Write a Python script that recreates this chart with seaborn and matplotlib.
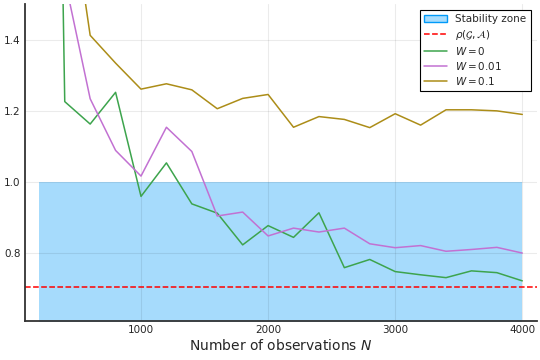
import numpy as np
import pandas as pd
import matplotlib
matplotlib.use("Agg")
import matplotlib.pyplot as plt
import seaborn as sns
from matplotlib.patches import Patch
from matplotlib.lines import Line2D

# number of observations
n_obs = [200, 400, 600, 800, 1000, 1200, 1400, 1600, 1800, 2000,
         2200, 2400, 2600, 2800, 3000, 3200, 3400, 3600, 3800, 4000]
# estimates (first points lie above the view)
w_0 = [5.5, 1.226, 1.163, 1.252, 0.960, 1.054, 0.939, 0.913, 0.824, 0.878,
       0.845, 0.914, 0.760, 0.783, 0.749, 0.740, 0.732, 0.751, 0.746, 0.723]
w_001 = [2.5, 1.57, 1.234, 1.089, 1.017, 1.154, 1.086, 0.905, 0.916, 0.849,
         0.871, 0.860, 0.871, 0.827, 0.816, 0.822, 0.806, 0.811, 0.817, 0.801]
w_01 = [3.0, 1.90, 1.412, 1.334, 1.261, 1.276, 1.259, 1.206, 1.235, 1.246,
        1.154, 1.184, 1.176, 1.153, 1.192, 1.160, 1.203, 1.203, 1.200, 1.190]
series_labels = ["$W = 0$", "$W = 0.01$", "$W = 0.1$"]
rho = 1 / np.sqrt(2)
zone_x = [200, 4000]
zone_top = 1.0

colors = {"$W = 0$": "#3da44d", "$W = 0.01$": "#c271d2", "$W = 0.1$": "#ac8d18"}

df = pd.DataFrame({
    "N": n_obs * 3,
    "value": w_0 + w_001 + w_01,
    "series": [series_labels[0]] * len(n_obs) + [series_labels[1]] * len(n_obs)
              + [series_labels[2]] * len(n_obs),
})

sns.set_theme(style="white")
plt.rcParams['font.family'] = ['DejaVu Sans']

fig = plt.figure(figsize=(5.4, 3.6), dpi=100)
ax = fig.add_axes([0.046, 0.108, 0.948, 0.881])

# stability zone
ax.fill_between(zone_x, [0, 0], [zone_top, zone_top], color="#009af9", alpha=0.35,
                linewidth=0, zorder=0.3)
ax.axhline(rho, color="red", linestyle="--", linewidth=1.1)

sns.lineplot(data=df, x="N", y="value", hue="series", palette=colors,
             linewidth=1.1, ax=ax, legend=False)

ax.set_xlim(86, 4114)
ax.set_ylim(0.61, 1.5)
ax.set_xticks([1000, 2000, 3000, 4000])
ax.set_yticks([0.8, 1.0, 1.2, 1.4])
ax.set_xlabel("Number of observations $N$", fontsize=10, labelpad=2)
ax.set_ylabel("")
ax.tick_params(axis="both", labelsize=7.5, length=0, pad=3)
ax.grid(True, color="black", alpha=0.08, linewidth=0.8)
ax.set_axisbelow(True)
for s in ["top", "right"]:
    ax.spines[s].set_visible(False)
for s in ["left", "bottom"]:
    ax.spines[s].set_color("#333333")
    ax.spines[s].set_linewidth(1.3)

# legend
handles = [
    Patch(facecolor="#a6dcfd", edgecolor="#009af9", label="Stability zone"),
    Line2D([], [], color="red", linestyle="--", linewidth=1.1,
           label=r"$\rho(\mathcal{G}, \mathcal{A})$"),
]
for lab in series_labels:
    handles.append(Line2D([], [], color=colors[lab], linewidth=1.1, label=lab))
leg = ax.legend(handles=handles, loc="upper right", fontsize=7.5, frameon=True,
                fancybox=False, framealpha=1, edgecolor="black",
                borderaxespad=0.6, handlelength=2.2, labelspacing=0.3)
leg.get_frame().set_linewidth(0.8)

plt.savefig("out.png", dpi=100)
